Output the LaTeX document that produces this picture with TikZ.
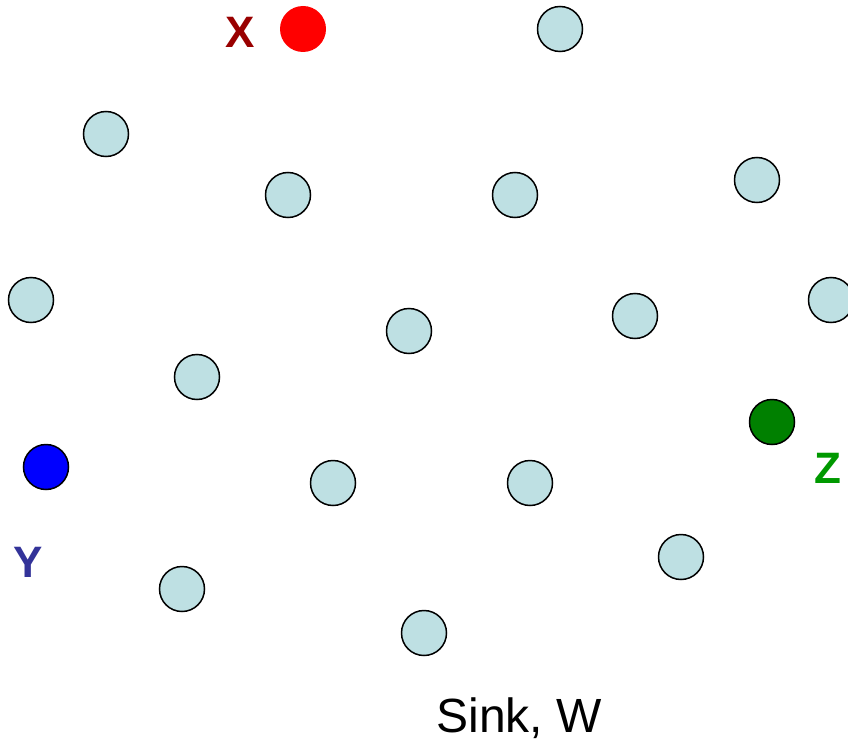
\documentclass[tikz,border=0pt]{standalone}
\usepackage{fontspec}
\setmainfont{Liberation Sans}
\definecolor{nodefill}{RGB}{190,224,227}
\definecolor{xred}{RGB}{153,0,0}
\definecolor{ysblue}{RGB}{51,51,153}
\definecolor{zgreen}{RGB}{0,153,0}
\definecolor{dkgreen}{RGB}{0,128,0}
\begin{document}
\begin{tikzpicture}[x=1pt,y=-1pt,
  sensor/.style={circle,draw=black,line width=1.5pt,fill=nodefill,minimum size=45pt,inner sep=0pt},
  special/.style={circle,draw=black,line width=1.5pt,minimum size=45pt,inner sep=0pt},
  tag/.style={font=\fontsize{44}{50}\selectfont\bfseries,inner sep=0pt}]
\useasboundingbox (0,0) rectangle (848,741);
% ordinary sensor nodes
\node[sensor] (n1) at (560,29) {};
\node[sensor] (n2) at (106,134) {};
\node[sensor] (n3) at (288,195) {};
\node[sensor] (n4) at (515,195) {};
\node[sensor] (n5) at (757,180) {};
\node[sensor] (n6) at (31,300) {};
\node[sensor] (n7) at (409,331) {};
\node[sensor] (n8) at (635,316) {};
\node[sensor] (n9) at (831,300) {};
\node[sensor] (n10) at (197,377) {};
\node[sensor] (n11) at (333,483) {};
\node[sensor] (n12) at (530,483) {};
\node[sensor] (n13) at (681,557) {};
\node[sensor] (n14) at (182,589) {};
\node[sensor] (n15) at (424,633) {};
% marked nodes
\node[circle,fill=red,minimum size=46pt,inner sep=0pt] (x) at (303,29) {};
\node[special,fill=blue] (y) at (46,467) {};
\node[special,fill=dkgreen] (z) at (772,422) {};
% labels
\node[tag,text=xred] (xl) at (240,32) {X};
\node[tag,text=ysblue] (yl) at (28,562) {Y};
\node[tag,text=zgreen] (zl) at (828,468) {Z};
\node[font=\fontsize{48}{54}\selectfont,inner sep=0pt] (w) at (519,718) {Sink, W};
\end{tikzpicture}
\end{document}
